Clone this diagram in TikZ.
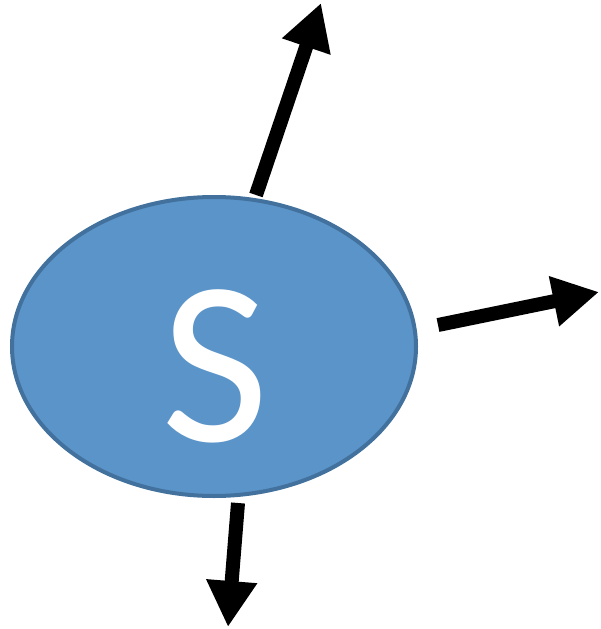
\documentclass[tikz,border=0pt]{standalone}
\usepackage{fontspec}
\setmainfont{Carlito}
\usetikzlibrary{shapes.geometric,arrows.meta}
\definecolor{sfill}{HTML}{5B94C9}
\definecolor{sborder}{HTML}{41719C}
\tikzset{
  bigarrow/.style={line width=14pt, -{Triangle[width=48pt,length=46pt]}},
  blob/.style={ellipse, draw=sborder, fill=sfill, line width=4pt, minimum width=404pt, minimum height=299pt, inner sep=0pt},
  bigletter/.style={text=white, font=\fontsize{234}{234}\selectfont, inner sep=0pt, anchor=base}
}
\begin{document}
\begin{tikzpicture}[x=1pt,y=-1pt]
\useasboundingbox (0,0) rectangle (600,629);
\node[blob] (s) at (214,346.5) {};
\node[bigletter] (lbl) at (215,441) {S};
\coordinate (t1) at (256,195);
\coordinate (h1) at (321,3);
\coordinate (t2) at (438,325);
\coordinate (h2) at (599,292);
\coordinate (t3) at (238,503);
\coordinate (h3) at (228,627);
\draw[bigarrow] (t1) -- (h1);
\draw[bigarrow] (t2) -- (h2);
\draw[bigarrow] (t3) -- (h3);
\end{tikzpicture}
\end{document}
